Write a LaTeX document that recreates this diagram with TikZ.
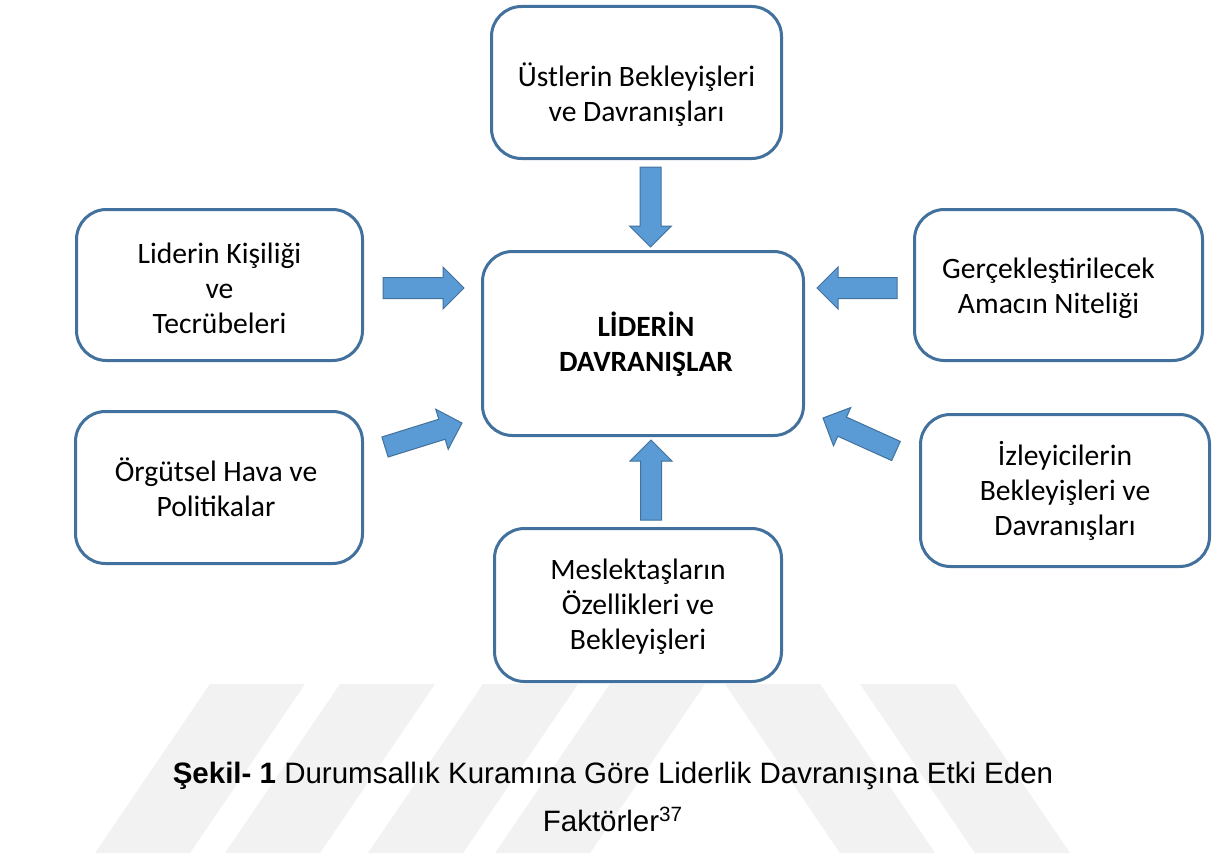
\documentclass[tikz,border=0pt]{standalone}
\usepackage{fontspec}
\setmainfont{Carlito}
\newfontfamily\capfont{Liberation Sans}
\usetikzlibrary{calc}
\definecolor{boxline}{HTML}{41719C}
\definecolor{arrfill}{HTML}{5B9BD5}
\definecolor{wm}{HTML}{F2F2F2}
\tikzset{
  box/.style={draw=boxline, line width=1.5pt, rounded corners=15pt, fill=white, inner sep=0pt},
  txt/.style={align=center, font=\fontsize{14.8}{17.5}\selectfont, inner sep=0pt},
  bigtxt/.style={align=center, font=\bfseries\fontsize{14.7}{17.5}\selectfont, inner sep=0pt},
  blockarr/.style={fill=arrfill, draw=boxline, line width=0.5pt, line join=miter},
  wmark/.style={fill=wm, draw=none},
}
\newcommand\blockarrow[2]{%
  \coordinate (hb) at ($(#2)!10.5pt!(#1)$);
  \draw[blockarr] ($(#1)!5.25pt!90:(#2)$) -- ($(#1)!5.25pt!-90:(#2)$)
    -- ($(hb)!5.25pt!-90:(#2)$) -- ($(hb)!10.5pt!-90:(#2)$) -- (#2)
    -- ($(hb)!10.5pt!90:(#2)$) -- ($(hb)!5.25pt!90:(#2)$) -- cycle;}
\begin{document}
\begin{tikzpicture}[x=0.5pt, y=-0.5pt]
\useasboundingbox (0,0) rectangle (1214,856);
\fill[white] (0,0) rectangle (1214,856);
% watermark
\fill[wmark] (210,684) -- (305,684) -- (190,853) -- (95,853) -- cycle;
\fill[wmark] (340,684) -- (435,684) -- (320,853) -- (225,853) -- cycle;
\fill[wmark] (483,684) -- (578,684) -- (463,853) -- (368,853) -- cycle;
\fill[wmark] (610,684) -- (705,684) -- (590,853) -- (495,853) -- cycle;
\fill[wmark] (725,684) -- (820,684) -- (935,853) -- (840,853) -- cycle;
\fill[wmark] (860,684) -- (955,684) -- (1070,853) -- (975,853) -- cycle;
% boxes
\node[box, minimum width=145pt, minimum height=76pt] (ust) at (636.5,82.5) {};
\node[txt] (ustT) at ([yshift=-6pt]ust.center) {Üstlerin Bekleyişleri\\ve Davranışları};
\node[box, minimum width=160.5pt, minimum height=92pt] (lid) at (643,343.5) {};
\node[bigtxt] (lidT) at ([xshift=1.5pt,yshift=-0.5pt]lid.center) {LİDERİN\\DAVRANIŞLAR};
\node[box, minimum width=143pt, minimum height=75.5pt] (kis) at (219.5,285) {};
\node[txt] (kisT) at ([yshift=-1.5pt]kis.center) {Liderin Kişiliği\\ve\\Tecrübeleri};
\node[box, minimum width=144pt, minimum height=75.5pt] (ama) at (1058.5,285) {};
\node[txt] (amaT) at ([xshift=-5pt,yshift=-1.5pt]ama.center) {Gerçekleştirilecek\\Amacın Niteliği};
\node[box, minimum width=143.5pt, minimum height=76pt] (org) at (219,487.5) {};
\node[txt] (orgT) at ([xshift=-1.5pt]org.center) {Örgütsel Hava ve\\Politikalar};
\node[box, minimum width=144.5pt, minimum height=76pt] (izl) at (1065,490.5) {};
\node[txt] (izlT) at (izl.center) {İzleyicilerin\\Bekleyişleri ve\\Davranışları};
\node[box, minimum width=143.5pt, minimum height=76.5pt] (mes) at (638,605) {};
\node[txt] (mesT) at ([yshift=-1pt]mes.center) {Meslektaşların\\Özellikleri ve\\Bekleyişleri};
% arrows
\coordinate (t1) at (650.5,167); \coordinate (h1) at (650.5,247);
\coordinate (t2) at (651,520);   \coordinate (h2) at (651,440);
\coordinate (t3) at (383,288);   \coordinate (h3) at (464,288);
\coordinate (t4) at (897,288);   \coordinate (h4) at (817,288);
\coordinate (t5) at (385,447);   \coordinate (h5) at (462,423);
\coordinate (t6) at (896,451);   \coordinate (h6) at (823,418);
\blockarrow{t1}{h1}
\blockarrow{t2}{h2}
\blockarrow{t3}{h3}
\blockarrow{t4}{h4}
\blockarrow{t5}{h5}
\blockarrow{t6}{h6}
% caption
\node[font=\capfont\fontsize{14.75}{24}\selectfont, align=center, inner sep=0pt] (cap) at (613,797)
  {\textbf{Şekil- 1} Durumsallık Kuramına Göre Liderlik Davranışına Etki Eden\\Faktörler\textsuperscript{37}};
\end{tikzpicture}
\end{document}
